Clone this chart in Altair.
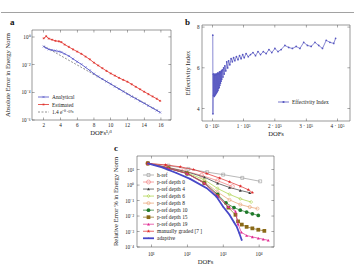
import altair as alt
import pandas as pd

FONT = "Liberation Serif"
INK = "#222222"
FRAME = "#555555"
W, H = 356, 270

# ---------------- panel a: error against DOFs^(1/3) ----------------
a_x = [2.0, 2.3, 2.6, 3.0, 3.4, 3.8, 4.1, 4.5, 5.0, 5.5, 6.0, 6.5, 7.0, 7.5, 8.0, 8.5,
       9.0, 9.5, 10.0, 10.5, 11.0, 11.5, 12.0, 12.5, 13.0, 13.5, 14.0, 14.5, 15.0, 15.5, 15.9]
a_analytical = [0.2, 0.158, 0.126, 0.112, 0.1, 0.089, 0.079, 0.06, 0.042, 0.026, 0.0162,
                0.0105, 0.0063, 0.0038, 0.0022, 0.0014, 9.1e-4, 6.0e-4, 4.0e-4, 2.6e-4,
                1.74e-4, 1.15e-4, 7.6e-5, 5.0e-5, 3.5e-5, 2.3e-5, 1.6e-5, 1.07e-5, 7.2e-6,
                4.9e-6, 3.5e-6]
a_estimated = [0.79, 1.12, 0.76, 0.63, 0.52, 0.48, 0.42, 0.28, 0.19, 0.126, 0.087, 0.06,
               0.038, 0.024, 0.0138, 0.0087, 0.0055, 0.0035, 0.0023, 0.0016, 0.0011, 7.9e-4,
               5.8e-4, 3.8e-4, 2.5e-4, 1.66e-4, 1.1e-4, 7.4e-5, 5.0e-5, 3.4e-5, 2.4e-5]
a_fit_x = [2.0, 15.9]
a_fit_y = [0.22, 3.8e-6]
a_xticks = [2, 4, 6, 8, 10, 12, 14, 16]
a_xlabels = ["2", "4", "6", "8", "10", "12", "14", "16"]
a_yticks = [1, 1e-2, 1e-4, 1e-6]
a_ylabels = ["10⁰", "10⁻²", "10⁻⁴", "10⁻⁶"]

# ---------------- panel b: effectivity index against DOFs ----------------
b_dofs = [1500, 2000, 3000, 4000, 5000, 6000, 7000, 8000, 9000, 10000, 11000, 12000, 13000,
          14000, 15000, 16000, 17000, 18000, 19000, 20000, 21000, 22000, 23000, 24000, 25000,
          26000, 27000, 28000, 29000, 30000, 32000, 34000, 36000, 38000, 40000, 43000, 46000,
          49000, 52000, 56000, 60000, 64000, 68000, 72000, 77000, 82000, 87000, 92000, 97000,
          102000, 108000, 115000, 122000, 130000, 138000, 146000, 154000, 163000, 172000,
          181000, 190000, 200000, 210000, 220000, 232000, 244000, 256000, 268000, 280000,
          292000, 304000, 316000, 328000, 340000, 352000, 364000, 376000, 388000, 394000]
b_index = [7.6, 3.75, 5.7, 4.65, 5.7, 4.6, 5.65, 4.65, 5.7, 4.7, 5.65, 4.75, 5.7, 4.8, 5.7,
           4.85, 5.75, 4.9, 5.75, 5.0, 5.7, 5.05, 5.8, 5.15, 5.75, 5.25, 5.8, 5.35, 5.85, 5.45,
           5.9, 5.55, 6.0, 5.7, 6.1, 5.85, 6.3, 6.0, 6.35, 6.15, 6.45, 6.3, 6.5, 6.35, 6.55,
           6.4, 6.6, 6.45, 6.65, 6.5, 6.7, 6.55, 6.65, 6.75, 6.6, 6.8, 6.65, 6.8, 6.7, 6.9,
           6.75, 6.95, 6.8, 6.9, 7.1, 7.0, 6.95, 7.05, 6.95, 7.25, 7.1, 7.05, 7.25, 7.1, 6.95,
           7.35, 7.25, 7.2, 7.45]
b_xticks = [0, 100000, 200000, 300000, 400000]
b_xlabels = ["0 · 10⁵", "1 · 10⁵", "2 · 10⁵", "3 · 10⁵", "4 · 10⁵"]
b_yticks = [4, 6, 8]
b_ylabels = ["4", "6", "8"]

# ---------------- panel c: relative error against DOFs ----------------
href_x = [8, 30, 107, 360, 1000, 3400, 10700]
href_y = [25, 18, 11, 6.8, 4.7, 2.9, 1.74]
p0_x = [8, 25, 80, 250, 700, 1800]
p0_y = [25, 15, 8.5, 4.2, 1.9, 0.8]
p4_x = [8, 30, 100, 300, 700, 1500, 3000, 5500]
p4_y = [25, 13, 7, 3.2, 1.3, 0.7, 0.45, 0.32]
p6_x = [8, 30, 100, 300, 700, 1500, 3000, 6000]
p6_y = [25, 12, 6, 2.2, 0.6, 0.25, 0.13, 0.08]
p8_x = [8, 30, 100, 300, 700, 1500, 3000, 5500, 9000]
p8_y = [25, 12, 5.5, 1.6, 0.35, 0.11, 0.055, 0.038, 0.03]
p10_x = [8, 30, 100, 300, 700, 1200, 2000, 3000, 4500, 6500, 9500]
p10_y = [25, 12, 5.5, 1.4, 0.25, 0.07, 0.035, 0.024, 0.018, 0.014, 0.011]
p15_x = [8, 30, 100, 300, 700, 1400, 2200, 2600, 3300, 4500, 6500, 9500, 14000]
p15_y = [25, 12, 5.5, 1.3, 0.2, 0.035, 0.012, 0.0045, 0.0028, 0.002, 0.0016, 0.0013, 0.0011]
p19_x = [8, 30, 100, 300, 700, 1400, 2200, 2600, 3200, 4500, 6500, 9500, 13000, 18000]
p19_y = [25, 12, 5.5, 1.3, 0.2, 0.04, 0.02, 0.003, 0.0009, 0.00055, 0.00045, 0.00037,
         0.00032, 0.00027]
manual_x = [8, 25, 64, 150, 350, 800, 1500, 3000, 5000, 6500]
manual_y = [25, 20, 15, 10, 5.5, 2.8, 1.6, 0.85, 0.5, 0.33]
adaptive_x = [8, 20, 50, 120, 350, 650, 1000, 1500, 2000, 2400, 2800, 3300]
adaptive_y = [25, 14, 6, 2.5, 0.63, 0.18, 0.04, 0.012, 0.004, 0.002, 0.0008, 0.00027]
c_names = ["h-ref", "p-ref depth 0", "p-ref depth 4", "p-ref depth 6", "p-ref depth 8",
           "p-ref depth 10", "p-ref depth 15", "p-ref depth 19", "manually graded [7 ]",
           "adaptive"]
c_data = dict(zip(c_names, [(href_x, href_y), (p0_x, p0_y), (p4_x, p4_y), (p6_x, p6_y),
                            (p8_x, p8_y), (p10_x, p10_y), (p15_x, p15_y), (p19_x, p19_y),
                            (manual_x, manual_y), (adaptive_x, adaptive_y)]))
c_xticks = [10, 100, 1000, 10000]
c_xlabels = ["10¹", "10²", "10³", "10⁴"]
c_yticks = [10, 1, 0.1, 0.01, 0.001, 0.0001]
c_ylabels = ["10¹", "10⁰", "10⁻¹", "10⁻²", "10⁻³", "10⁻⁴"]

# ---------------- marker shapes and styles ----------------
STAR = ("M0,-1L0.24,-0.31L0.95,-0.31L0.38,0.12L0.59,0.81L0,0.4L-0.59,0.81L-0.38,0.12"
        "L-0.95,-0.31L-0.24,-0.31Z")
XMARK = "M-1,-1L1,1M-1,1L1,-1"
ASTER = "M-1,0L1,0M0,-1L0,1M-0.7,-0.7L0.7,0.7M-0.7,0.7L0.7,-0.7"

C_STYLE = {
    "h-ref": dict(color="#9a9a9a", shape="square", filled=False, size=9, width=0.7),
    "p-ref depth 0": dict(color="#f07a7a", shape="circle", filled=False, size=16, width=0.7),
    "p-ref depth 4": dict(color="#3a3a3a", shape="triangle-up", filled=True, size=9, width=0.7),
    "p-ref depth 6": dict(color="#a8d040", shape="diamond", filled=False, size=10, width=0.7),
    "p-ref depth 8": dict(color="#e8a070", shape="circle", filled=False, size=10, width=0.7),
    "p-ref depth 10": dict(color="#1f7a2a", shape="circle", filled=True, size=14, width=0.7),
    "p-ref depth 15": dict(color="#8a6a18", shape="square", filled=True, size=14, width=0.7),
    "p-ref depth 19": dict(color="#e02890", shape="triangle-up", filled=True, size=9, width=0.7),
    "manually graded [7 ]": dict(color="#e02a2a", shape=STAR, filled=True, size=14, width=0.7),
    "adaptive": dict(color="#4848c8", shape="circle", filled=True, size=2, width=1.8),
}
BLUE = "#4b4bc4"
RED = "#e0302a"


def text(label, x, y, size=6.6, angle=0, align="center", weight="normal", color=INK):
    kw = dict(font=FONT, fontSize=size, fontWeight=weight, color=color, align=align,
              baseline="middle")
    if angle:
        kw["angle"] = angle
    return alt.Chart(pd.DataFrame({"t": [label]})).mark_text(**kw).encode(
        x=alt.value(x), y=alt.value(y), text="t:N")


def frame_ticks_labels(xs, ys, xdom, ydom, xt, xl, yt, yl, box, xlab_y, ylab_x):
    """Panel frame over the scale domain, inward ticks on four sides, tick labels."""
    left, right, top, bottom = box
    fr = alt.Chart(pd.DataFrame({"x0": [xdom[0]], "x1": [xdom[1]],
                                 "y0": [ydom[0]], "y1": [ydom[1]]})).mark_rect(
        fillOpacity=0, stroke=FRAME, strokeWidth=0.6).encode(
        x=alt.X("x0:Q", scale=xs, axis=None), x2="x1:Q",
        y=alt.Y("y0:Q", scale=ys, axis=None), y2="y1:Q")
    txd = pd.DataFrame({"v": xt, "lab": xl})
    tyd = pd.DataFrame({"v": yt, "lab": yl})
    tk = dict(size=2.6, thickness=0.5, color=FRAME, opacity=1)
    parts = [fr]
    for yy in (bottom - 1.3, top + 1.3):
        parts.append(alt.Chart(txd).mark_tick(orient="vertical", **tk).encode(
            x=alt.X("v:Q", scale=xs, axis=None), y=alt.value(yy)))
    for xx in (left + 1.3, right - 1.3):
        parts.append(alt.Chart(tyd).mark_tick(orient="horizontal", **tk).encode(
            y=alt.Y("v:Q", scale=ys, axis=None), x=alt.value(xx)))
    parts.append(alt.Chart(txd).mark_text(font=FONT, fontSize=5.2, color=INK, align="center",
                                          baseline="middle").encode(
        x=alt.X("v:Q", scale=xs, axis=None), y=alt.value(xlab_y), text="lab:N"))
    parts.append(alt.Chart(tyd).mark_text(font=FONT, fontSize=5.2, color=INK, align="right",
                                          baseline="middle").encode(
        y=alt.Y("v:Q", scale=ys, axis=None), x=alt.value(ylab_x), text="lab:N"))
    return parts


def series(xv, yv, xs, ys, color, shape, filled, size, width, dash=None, stroke_w=0.6):
    df = pd.DataFrame({"x": xv, "y": yv})
    line_kw = dict(color=color, strokeWidth=width)
    if dash:
        line_kw["strokeDash"] = dash
    enc = dict(x=alt.X("x:Q", scale=xs, axis=None), y=alt.Y("y:Q", scale=ys, axis=None))
    out = [alt.Chart(df).mark_line(**line_kw).encode(**enc)]
    if shape:
        out.append(alt.Chart(df).mark_point(shape=shape, filled=filled, color=color, size=size,
                                            strokeWidth=stroke_w, opacity=1).encode(**enc))
    return out


def legend_entry(label, y, x0, color, shape=None, filled=True, size=10, width=0.8,
                 dash=None, fsize=5.4, stroke_w=0.6):
    base = alt.Chart(pd.DataFrame({"label": [label]}))
    kw = dict(color=color, strokeWidth=width)
    if dash:
        kw["strokeDash"] = dash
    out = [base.mark_rule(**kw).encode(x=alt.value(x0), x2=alt.value(x0 + 11),
                                       y=alt.value(y))]
    if shape:
        out.append(base.mark_point(shape=shape, filled=filled, color=color, size=size,
                                   strokeWidth=stroke_w, opacity=1).encode(
            x=alt.value(x0 + 5.5), y=alt.value(y)))
    out.append(text(label, x0 + 14, y, size=fsize, align="left"))
    return out


layers = []

# ---- panel a ----
A_BOX = (32, 171, 30, 120)
xa_dom, ya_dom = [0.6, 17.2], [1e-6, 3.1623]
xa = alt.Scale(domain=xa_dom, range=[A_BOX[0], A_BOX[1]], nice=False, zero=False)
ya = alt.Scale(type="log", domain=ya_dom, range=[A_BOX[3], A_BOX[2]], nice=False)
pa = frame_ticks_labels(xa, ya, xa_dom, ya_dom, a_xticks, a_xlabels, a_yticks, a_ylabels,
                        A_BOX, 125, 30.5)
pa += series(a_fit_x, a_fit_y, xa, ya, "#777777", None, False, 0, 0.8, dash=[2, 1.5])
pa += series(a_x, a_analytical, xa, ya, BLUE, XMARK, False, 5, 0.8, stroke_w=0.5)
pa += series(a_x, a_estimated, xa, ya, RED, ASTER, False, 5, 0.8, stroke_w=0.5)
layers.append(alt.layer(*pa))
layers += legend_entry("Analytical", 97, 38, BLUE, XMARK, False, 5, 0.8, stroke_w=0.5)
layers += legend_entry("Estimated", 104.5, 38, RED, ASTER, False, 5, 0.8, stroke_w=0.5)
layers += legend_entry("1.4 e⁻⁰·⁶⁹ˣ", 112, 38, "#777777", None, dash=[2, 1.5])
layers.append(text("Absolute Error in Energy Norm", 8, 75, angle=270))
layers.append(text("DOFs¹/³", 101, 132.5))

# ---- panel b ----
B_BOX = (202, 350, 25, 121)
xb_dom, yb_dom = [-33000, 440000], [3.4, 8.1]
xb = alt.Scale(domain=xb_dom, range=[B_BOX[0], B_BOX[1]], nice=False, zero=False)
yb = alt.Scale(domain=yb_dom, range=[B_BOX[3], B_BOX[2]], nice=False, zero=False)
pb = frame_ticks_labels(xb, yb, xb_dom, yb_dom, b_xticks, b_xlabels, b_yticks, b_ylabels,
                        B_BOX, 126, 199.5)
pb += series(b_dofs, b_index, xb, yb, "#5656c0", "circle", True, 3, 0.7)
layers.append(alt.layer(*pb))
layers += legend_entry("Effectivity Index", 102, 278, "#5656c0", "circle", True, 5, 0.8)
layers.append(text("Effectivity Index", 188, 73, angle=270))
layers.append(text("DOFs", 276, 133.5))

# ---- panel c ----
C_BOX = (137, 274, 156, 247)
xc_dom, yc_dom = [4, 26000], [1e-4, 75]
xc = alt.Scale(type="log", domain=xc_dom, range=[C_BOX[0], C_BOX[1]], nice=False)
yc = alt.Scale(type="log", domain=yc_dom, range=[C_BOX[3], C_BOX[2]], nice=False)
pc = frame_ticks_labels(xc, yc, xc_dom, yc_dom, c_xticks, c_xlabels, c_yticks, c_ylabels,
                        C_BOX, 254, 134)
for name in c_names:
    st = C_STYLE[name]
    xv, yv = c_data[name]
    pc += series(xv, yv, xc, yc, st["color"], st["shape"], st["filled"], st["size"],
                 st["width"])
layers.append(alt.layer(*pc))
for i, name in enumerate(c_names):
    st = C_STYLE[name]
    layers += legend_entry(name, 175 + 7.03 * i, 143, st["color"], st["shape"], st["filled"],
                           st["size"], st["width"])
layers.append(text("Relative Error % in Energy Norm", 116, 201.5, angle=270))
layers.append(text("DOFs", 205.5, 262))

# ---- panel letters and the rule across the top ----
layers.append(alt.Chart(pd.DataFrame({"k": [0]})).mark_rule(
    color="#8a8a8a", strokeWidth=0.8).encode(
    x=alt.value(1), x2=alt.value(354), y=alt.value(12.5)))
for letter, px, py in (("a", 10, 22), ("b", 185, 22), ("c", 114, 148)):
    layers.append(text(letter, px, py, size=9, weight="bold", align="left", color="#111111"))

chart = alt.layer(*layers).resolve_scale(x="independent", y="independent").properties(
    width=W, height=H, autosize=alt.AutoSizeParams(type="none"), padding=0,
    background="white").configure_view(stroke=None)

chart.save("out.html", embed_options={"renderer": "svg", "actions": False})
